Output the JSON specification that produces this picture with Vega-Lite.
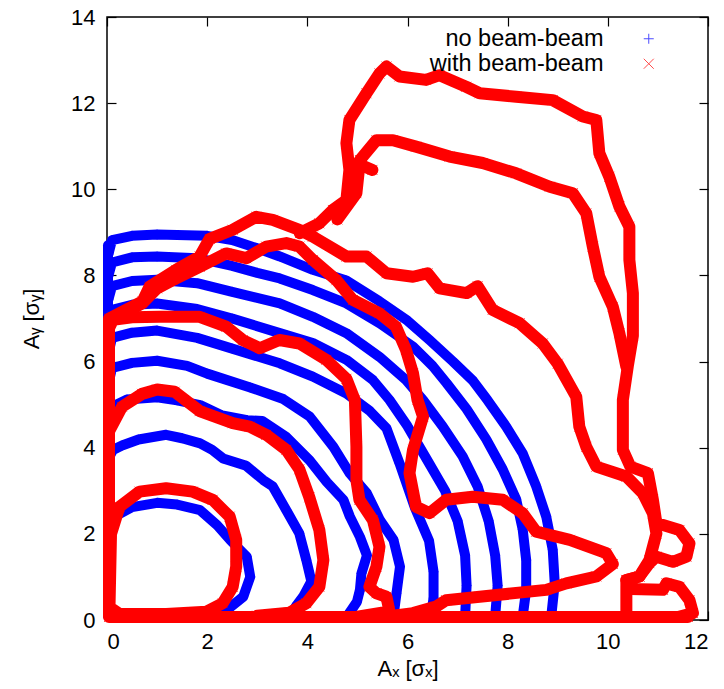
{
"$schema": "https://vega.github.io/schema/vega-lite/v6.json",
"width": 601, "height": 603,
"autosize": {"type": "none"},
"padding": {"left": 107, "top": 17, "right": 16, "bottom": 69},
"background": "white",
"config": {
  "font": "Liberation Sans",
  "view": {"stroke": "black", "strokeWidth": 1.5},
  "axis": {"grid": false, "domain": false, "tickColor": "black", "tickWidth": 1.2, "tickSize": -9, "labelFontSize": 22, "labelColor": "black", "titleFontSize": 22, "titleFontWeight": "normal", "titleColor": "black"}
},
"data": {"values": [
{"s":"n","c":"b0","x":0.02,"y":0.1},{"s":"n","c":"b0","x":0.02,"y":8.7},
{"s":"n","c":"b1","x":0.03,"y":2.15},{"s":"n","c":"b1","x":0.15,"y":2.4},{"s":"n","c":"b1","x":0.5,"y":2.62},{"s":"n","c":"b1","x":1.0,"y":2.72},{"s":"n","c":"b1","x":1.4,"y":2.68},{"s":"n","c":"b1","x":1.86,"y":2.55},{"s":"n","c":"b1","x":2.2,"y":2.2},{"s":"n","c":"b1","x":2.46,"y":1.86},{"s":"n","c":"b1","x":2.79,"y":1.47},{"s":"n","c":"b1","x":2.86,"y":1.0},{"s":"n","c":"b1","x":2.72,"y":0.54},{"s":"n","c":"b1","x":2.39,"y":0.23},{"s":"n","c":"b1","x":2.1,"y":0.06},
{"s":"n","c":"b2","x":0.03,"y":3.75},{"s":"n","c":"b2","x":0.12,"y":3.95},{"s":"n","c":"b2","x":0.3,"y":4.05},{"s":"n","c":"b2","x":0.63,"y":4.19},{"s":"n","c":"b2","x":1.18,"y":4.3},{"s":"n","c":"b2","x":1.5,"y":4.22},{"s":"n","c":"b2","x":1.86,"y":4.1},{"s":"n","c":"b2","x":2.1,"y":3.95},{"s":"n","c":"b2","x":2.32,"y":3.75},{"s":"n","c":"b2","x":2.78,"y":3.58},{"s":"n","c":"b2","x":3.12,"y":3.25},{"s":"n","c":"b2","x":3.31,"y":3.1},{"s":"n","c":"b2","x":3.58,"y":2.55},{"s":"n","c":"b2","x":3.84,"y":2.01},{"s":"n","c":"b2","x":3.98,"y":1.39},{"s":"n","c":"b2","x":4.08,"y":0.9},{"s":"n","c":"b2","x":3.92,"y":0.55},{"s":"n","c":"b2","x":3.79,"y":0.35},{"s":"n","c":"b2","x":3.65,"y":0.08},
{"s":"n","c":"b3","x":0.03,"y":4.7},{"s":"n","c":"b3","x":0.1,"y":4.95},{"s":"n","c":"b3","x":0.4,"y":5.12},{"s":"n","c":"b3","x":1.0,"y":5.17},{"s":"n","c":"b3","x":1.4,"y":5.1},{"s":"n","c":"b3","x":1.86,"y":4.99},{"s":"n","c":"b3","x":2.3,"y":4.75},{"s":"n","c":"b3","x":2.8,"y":4.64},{"s":"n","c":"b3","x":3.1,"y":4.62},{"s":"n","c":"b3","x":3.58,"y":4.25},{"s":"n","c":"b3","x":4.05,"y":3.7},{"s":"n","c":"b3","x":4.39,"y":3.2},{"s":"n","c":"b3","x":4.72,"y":2.79},{"s":"n","c":"b3","x":4.85,"y":2.4},{"s":"n","c":"b3","x":5.05,"y":1.93},{"s":"n","c":"b3","x":5.19,"y":1.5},{"s":"n","c":"b3","x":5.08,"y":1.08},{"s":"n","c":"b3","x":5.05,"y":0.7},{"s":"n","c":"b3","x":4.99,"y":0.42},{"s":"n","c":"b3","x":4.79,"y":0.08},
{"s":"n","c":"b4","x":0.03,"y":5.5},{"s":"n","c":"b4","x":0.1,"y":5.85},{"s":"n","c":"b4","x":0.5,"y":5.97},{"s":"n","c":"b4","x":1.0,"y":6.02},{"s":"n","c":"b4","x":1.6,"y":5.9},{"s":"n","c":"b4","x":2.0,"y":5.72},{"s":"n","c":"b4","x":2.86,"y":5.4},{"s":"n","c":"b4","x":3.52,"y":5.13},{"s":"n","c":"b4","x":4.05,"y":4.72},{"s":"n","c":"b4","x":4.52,"y":4.02},{"s":"n","c":"b4","x":4.85,"y":3.4},{"s":"n","c":"b4","x":5.19,"y":2.94},{"s":"n","c":"b4","x":5.45,"y":2.32},{"s":"n","c":"b4","x":5.72,"y":1.86},{"s":"n","c":"b4","x":5.85,"y":1.24},{"s":"n","c":"b4","x":5.78,"y":0.62},{"s":"n","c":"b4","x":5.72,"y":0.08},
{"s":"n","c":"b5","x":0.03,"y":6.2},{"s":"n","c":"b5","x":0.1,"y":6.55},{"s":"n","c":"b5","x":0.5,"y":6.67},{"s":"n","c":"b5","x":1.0,"y":6.72},{"s":"n","c":"b5","x":1.8,"y":6.55},{"s":"n","c":"b5","x":2.5,"y":6.3},{"s":"n","c":"b5","x":3.45,"y":5.96},{"s":"n","c":"b5","x":4.11,"y":5.65},{"s":"n","c":"b5","x":4.78,"y":5.26},{"s":"n","c":"b5","x":5.25,"y":4.85},{"s":"n","c":"b5","x":5.58,"y":4.45},{"s":"n","c":"b5","x":5.84,"y":3.64},{"s":"n","c":"b5","x":6.15,"y":2.6},{"s":"n","c":"b5","x":6.43,"y":1.84},{"s":"n","c":"b5","x":6.52,"y":1.12},{"s":"n","c":"b5","x":6.52,"y":0.51},{"s":"n","c":"b5","x":6.47,"y":0.08},
{"s":"n","c":"b6","x":0.03,"y":6.9},{"s":"n","c":"b6","x":0.1,"y":7.2},{"s":"n","c":"b6","x":0.5,"y":7.32},{"s":"n","c":"b6","x":1.0,"y":7.35},{"s":"n","c":"b6","x":1.8,"y":7.22},{"s":"n","c":"b6","x":2.5,"y":7.0},{"s":"n","c":"b6","x":3.45,"y":6.66},{"s":"n","c":"b6","x":4.11,"y":6.43},{"s":"n","c":"b6","x":4.78,"y":6.04},{"s":"n","c":"b6","x":5.31,"y":5.57},{"s":"n","c":"b6","x":5.64,"y":5.11},{"s":"n","c":"b6","x":6.0,"y":4.5},{"s":"n","c":"b6","x":6.4,"y":3.7},{"s":"n","c":"b6","x":6.75,"y":3.0},{"s":"n","c":"b6","x":7.0,"y":2.3},{"s":"n","c":"b6","x":7.15,"y":1.5},{"s":"n","c":"b6","x":7.18,"y":0.8},{"s":"n","c":"b6","x":7.15,"y":0.08},
{"s":"n","c":"b7","x":0.03,"y":7.45},{"s":"n","c":"b7","x":0.1,"y":7.75},{"s":"n","c":"b7","x":0.5,"y":7.87},{"s":"n","c":"b7","x":1.0,"y":7.9},{"s":"n","c":"b7","x":1.8,"y":7.82},{"s":"n","c":"b7","x":2.5,"y":7.62},{"s":"n","c":"b7","x":3.45,"y":7.35},{"s":"n","c":"b7","x":4.11,"y":7.04},{"s":"n","c":"b7","x":4.78,"y":6.66},{"s":"n","c":"b7","x":5.44,"y":6.11},{"s":"n","c":"b7","x":5.97,"y":5.57},{"s":"n","c":"b7","x":6.31,"y":5.11},{"s":"n","c":"b7","x":6.7,"y":4.5},{"s":"n","c":"b7","x":7.1,"y":3.8},{"s":"n","c":"b7","x":7.4,"y":3.1},{"s":"n","c":"b7","x":7.62,"y":2.3},{"s":"n","c":"b7","x":7.75,"y":1.5},{"s":"n","c":"b7","x":7.8,"y":0.8},{"s":"n","c":"b7","x":7.75,"y":0.08},
{"s":"n","c":"b8","x":0.03,"y":8.0},{"s":"n","c":"b8","x":0.1,"y":8.3},{"s":"n","c":"b8","x":0.5,"y":8.42},{"s":"n","c":"b8","x":1.0,"y":8.44},{"s":"n","c":"b8","x":1.8,"y":8.4},{"s":"n","c":"b8","x":2.5,"y":8.22},{"s":"n","c":"b8","x":3.0,"y":8.06},{"s":"n","c":"b8","x":3.45,"y":7.93},{"s":"n","c":"b8","x":4.11,"y":7.66},{"s":"n","c":"b8","x":4.78,"y":7.35},{"s":"n","c":"b8","x":5.44,"y":6.89},{"s":"n","c":"b8","x":6.11,"y":6.35},{"s":"n","c":"b8","x":6.5,"y":5.9},{"s":"n","c":"b8","x":6.78,"y":5.5},{"s":"n","c":"b8","x":7.18,"y":4.9},{"s":"n","c":"b8","x":7.57,"y":4.2},{"s":"n","c":"b8","x":7.9,"y":3.5},{"s":"n","c":"b8","x":8.17,"y":2.8},{"s":"n","c":"b8","x":8.3,"y":2.1},{"s":"n","c":"b8","x":8.37,"y":1.39},{"s":"n","c":"b8","x":8.37,"y":0.7},{"s":"n","c":"b8","x":8.3,"y":0.08},
{"s":"n","c":"b9","x":0.03,"y":8.5},{"s":"n","c":"b9","x":0.1,"y":8.82},{"s":"n","c":"b9","x":0.5,"y":8.92},{"s":"n","c":"b9","x":1.0,"y":8.95},{"s":"n","c":"b9","x":2.0,"y":8.92},{"s":"n","c":"b9","x":2.5,"y":8.82},{"s":"n","c":"b9","x":3.0,"y":8.63},{"s":"n","c":"b9","x":3.45,"y":8.44},{"s":"n","c":"b9","x":4.11,"y":8.13},{"s":"n","c":"b9","x":4.78,"y":7.88},{"s":"n","c":"b9","x":5.44,"y":7.4},{"s":"n","c":"b9","x":6.0,"y":6.95},{"s":"n","c":"b9","x":6.44,"y":6.5},{"s":"n","c":"b9","x":6.91,"y":6.0},{"s":"n","c":"b9","x":7.31,"y":5.55},{"s":"n","c":"b9","x":7.6,"y":5.1},{"s":"n","c":"b9","x":7.97,"y":4.49},{"s":"n","c":"b9","x":8.3,"y":3.87},{"s":"n","c":"b9","x":8.57,"y":3.1},{"s":"n","c":"b9","x":8.77,"y":2.4},{"s":"n","c":"b9","x":8.9,"y":1.63},{"s":"n","c":"b9","x":8.94,"y":0.85},{"s":"n","c":"b9","x":8.87,"y":0.08},
{"s":"w","c":"r0","x":0.04,"y":7.0},{"s":"w","c":"r0","x":0.04,"y":0.07},{"s":"w","c":"r0","x":11.6,"y":0.07},
{"s":"w","c":"r1","x":0.05,"y":0.3},{"s":"w","c":"r1","x":0.08,"y":2.0},{"s":"w","c":"r1","x":0.25,"y":2.63},{"s":"w","c":"r1","x":0.65,"y":2.98},{"s":"w","c":"r1","x":1.18,"y":3.06},{"s":"w","c":"r1","x":1.71,"y":2.98},{"s":"w","c":"r1","x":2.11,"y":2.79},{"s":"w","c":"r1","x":2.45,"y":2.4},{"s":"w","c":"r1","x":2.58,"y":1.86},{"s":"w","c":"r1","x":2.58,"y":1.24},{"s":"w","c":"r1","x":2.51,"y":0.77},{"s":"w","c":"r1","x":2.31,"y":0.39},{"s":"w","c":"r1","x":1.98,"y":0.19},{"s":"w","c":"r1","x":1.18,"y":0.14},{"s":"w","c":"r1","x":0.25,"y":0.14},{"s":"w","c":"r1","x":0.05,"y":0.3},
{"s":"w","c":"r2","x":0.05,"y":4.4},{"s":"w","c":"r2","x":0.3,"y":4.95},{"s":"w","c":"r2","x":0.7,"y":5.25},{"s":"w","c":"r2","x":1.0,"y":5.35},{"s":"w","c":"r2","x":1.35,"y":5.3},{"s":"w","c":"r2","x":1.85,"y":4.85},{"s":"w","c":"r2","x":2.51,"y":4.57},{"s":"w","c":"r2","x":2.85,"y":4.49},{"s":"w","c":"r2","x":3.18,"y":4.3},{"s":"w","c":"r2","x":3.58,"y":3.95},{"s":"w","c":"r2","x":3.84,"y":3.5},{"s":"w","c":"r2","x":4.04,"y":2.85},{"s":"w","c":"r2","x":4.24,"y":2.09},{"s":"w","c":"r2","x":4.32,"y":1.39},{"s":"w","c":"r2","x":4.24,"y":0.77},{"s":"w","c":"r2","x":3.98,"y":0.39},{"s":"w","c":"r2","x":3.64,"y":0.17},{"s":"w","c":"r2","x":3.0,"y":0.1},
{"s":"w","c":"r3","x":0.05,"y":6.8},{"s":"w","c":"r3","x":0.12,"y":6.97},{"s":"w","c":"r3","x":0.5,"y":7.03},{"s":"w","c":"r3","x":1.05,"y":7.04},{"s":"w","c":"r3","x":1.85,"y":7.04},{"s":"w","c":"r3","x":2.38,"y":6.81},{"s":"w","c":"r3","x":2.71,"y":6.5},{"s":"w","c":"r3","x":3.05,"y":6.31},{"s":"w","c":"r3","x":3.44,"y":6.5},{"s":"w","c":"r3","x":3.84,"y":6.42},{"s":"w","c":"r3","x":4.38,"y":6.04},{"s":"w","c":"r3","x":4.78,"y":5.6},{"s":"w","c":"r3","x":4.95,"y":5.1},{"s":"w","c":"r3","x":4.98,"y":4.02},{"s":"w","c":"r3","x":4.98,"y":3.25},{"s":"w","c":"r3","x":5.04,"y":2.79},{"s":"w","c":"r3","x":5.31,"y":2.32},{"s":"w","c":"r3","x":5.44,"y":1.7},{"s":"w","c":"r3","x":5.38,"y":1.24},{"s":"w","c":"r3","x":5.24,"y":0.77},{"s":"w","c":"r3","x":5.38,"y":0.62},{"s":"w","c":"r3","x":5.58,"y":0.54},{"s":"w","c":"r3","x":5.64,"y":0.2},{"s":"w","c":"r3","x":5.0,"y":0.08},
{"s":"w","c":"r4","x":0.05,"y":6.9},{"s":"w","c":"r4","x":0.11,"y":7.04},{"s":"w","c":"r4","x":0.71,"y":7.4},{"s":"w","c":"r4","x":0.85,"y":7.74},{"s":"w","c":"r4","x":1.38,"y":8.13},{"s":"w","c":"r4","x":1.85,"y":8.44},{"s":"w","c":"r4","x":2.05,"y":8.85},{"s":"w","c":"r4","x":2.51,"y":9.06},{"s":"w","c":"r4","x":2.98,"y":9.36},{"s":"w","c":"r4","x":3.31,"y":9.29},{"s":"w","c":"r4","x":3.84,"y":9.06},{"s":"w","c":"r4","x":4.11,"y":8.9},{"s":"w","c":"r4","x":4.78,"y":8.44},{"s":"w","c":"r4","x":5.18,"y":8.44},{"s":"w","c":"r4","x":5.58,"y":8.05},{"s":"w","c":"r4","x":6.11,"y":7.97},{"s":"w","c":"r4","x":6.4,"y":8.05},{"s":"w","c":"r4","x":6.64,"y":7.7},{"s":"w","c":"r4","x":7.18,"y":7.59},{"s":"w","c":"r4","x":7.4,"y":7.75},{"s":"w","c":"r4","x":7.7,"y":7.2},{"s":"w","c":"r4","x":8.24,"y":6.89},{"s":"w","c":"r4","x":8.7,"y":6.42},{"s":"w","c":"r4","x":9.0,"y":5.95},{"s":"w","c":"r4","x":9.37,"y":5.18},{"s":"w","c":"r4","x":9.43,"y":4.49},{"s":"w","c":"r4","x":9.57,"y":4.02},{"s":"w","c":"r4","x":9.77,"y":3.56},{"s":"w","c":"r4","x":10.37,"y":3.33},{"s":"w","c":"r4","x":10.7,"y":2.94},{"s":"w","c":"r4","x":10.9,"y":2.48},{"s":"w","c":"r4","x":10.97,"y":2.01},{"s":"w","c":"r4","x":10.83,"y":1.39},{"s":"w","c":"r4","x":10.63,"y":1.01},{"s":"w","c":"r4","x":10.37,"y":0.93},{"s":"w","c":"r4","x":10.37,"y":0.2},
{"s":"w","c":"r5","x":0.05,"y":6.9},{"s":"w","c":"r5","x":0.3,"y":7.1},{"s":"w","c":"r5","x":0.7,"y":7.35},{"s":"w","c":"r5","x":1.0,"y":7.7},{"s":"w","c":"r5","x":1.31,"y":7.89},{"s":"w","c":"r5","x":1.85,"y":8.2},{"s":"w","c":"r5","x":2.38,"y":8.51},{"s":"w","c":"r5","x":2.78,"y":8.4},{"s":"w","c":"r5","x":3.18,"y":8.67},{"s":"w","c":"r5","x":3.58,"y":8.75},{"s":"w","c":"r5","x":3.84,"y":8.67},{"s":"w","c":"r5","x":4.11,"y":8.36},{"s":"w","c":"r5","x":4.58,"y":7.89},{"s":"w","c":"r5","x":4.91,"y":7.43},{"s":"w","c":"r5","x":5.44,"y":7.12},{"s":"w","c":"r5","x":5.77,"y":6.81},{"s":"w","c":"r5","x":5.97,"y":6.27},{"s":"w","c":"r5","x":6.11,"y":5.73},{"s":"w","c":"r5","x":6.2,"y":5.11},{"s":"w","c":"r5","x":6.31,"y":4.72},{"s":"w","c":"r5","x":6.11,"y":3.95},{"s":"w","c":"r5","x":6.04,"y":3.41},{"s":"w","c":"r5","x":6.17,"y":2.63},{"s":"w","c":"r5","x":6.44,"y":2.48},{"s":"w","c":"r5","x":6.77,"y":2.79},{"s":"w","c":"r5","x":7.3,"y":2.86},{"s":"w","c":"r5","x":7.9,"y":2.79},{"s":"w","c":"r5","x":8.3,"y":2.48},{"s":"w","c":"r5","x":8.57,"y":2.05},{"s":"w","c":"r5","x":9.24,"y":1.86},{"s":"w","c":"r5","x":9.97,"y":1.55},{"s":"w","c":"r5","x":10.1,"y":1.3},{"s":"w","c":"r5","x":9.77,"y":1.01},{"s":"w","c":"r5","x":9.17,"y":0.85},{"s":"w","c":"r5","x":8.77,"y":0.7},{"s":"w","c":"r5","x":7.44,"y":0.54},{"s":"w","c":"r5","x":6.77,"y":0.46},{"s":"w","c":"r5","x":6.57,"y":0.31},{"s":"w","c":"r5","x":6.11,"y":0.16},{"s":"w","c":"r5","x":5.6,"y":0.08},
{"s":"w","c":"r6","x":3.85,"y":8.98},{"s":"w","c":"r6","x":4.24,"y":9.21},{"s":"w","c":"r6","x":4.51,"y":9.52},{"s":"w","c":"r6","x":4.78,"y":9.75},{"s":"w","c":"r6","x":4.84,"y":10.45},{"s":"w","c":"r6","x":4.78,"y":11.07},{"s":"w","c":"r6","x":4.84,"y":11.61},{"s":"w","c":"r6","x":5.18,"y":12.23},{"s":"w","c":"r6","x":5.44,"y":12.69},{"s":"w","c":"r6","x":5.58,"y":12.85},{"s":"w","c":"r6","x":5.84,"y":12.62},{"s":"w","c":"r6","x":6.37,"y":12.54},{"s":"w","c":"r6","x":6.64,"y":12.65},{"s":"w","c":"r6","x":7.17,"y":12.38},{"s":"w","c":"r6","x":7.44,"y":12.23},{"s":"w","c":"r6","x":8.17,"y":12.15},{"s":"w","c":"r6","x":8.9,"y":12.07},{"s":"w","c":"r6","x":9.5,"y":11.69},{"s":"w","c":"r6","x":9.77,"y":11.61},{"s":"w","c":"r6","x":9.83,"y":10.84},{"s":"w","c":"r6","x":10.03,"y":10.29},{"s":"w","c":"r6","x":10.23,"y":9.6},{"s":"w","c":"r6","x":10.43,"y":9.13},{"s":"w","c":"r6","x":10.43,"y":8.36},{"s":"w","c":"r6","x":10.5,"y":7.59},{"s":"w","c":"r6","x":10.5,"y":6.6},{"s":"w","c":"r6","x":10.4,"y":5.9},{"s":"w","c":"r6","x":10.3,"y":5.11},{"s":"w","c":"r6","x":10.3,"y":3.95},{"s":"w","c":"r6","x":10.45,"y":3.56},{"s":"w","c":"r6","x":10.8,"y":3.41},{"s":"w","c":"r6","x":10.9,"y":2.79},{"s":"w","c":"r6","x":10.97,"y":2.25},{"s":"w","c":"r6","x":11.43,"y":2.09},{"s":"w","c":"r6","x":11.63,"y":1.78},{"s":"w","c":"r6","x":11.57,"y":1.47},{"s":"w","c":"r6","x":11.3,"y":1.35},{"s":"w","c":"r6","x":10.97,"y":1.47},{"s":"w","c":"r6","x":10.83,"y":1.32},{"s":"w","c":"r6","x":10.63,"y":1.01},{"s":"w","c":"r6","x":10.37,"y":0.93},{"s":"w","c":"r6","x":10.45,"y":0.72},{"s":"w","c":"r6","x":11.1,"y":0.7},{"s":"w","c":"r6","x":11.17,"y":0.85},{"s":"w","c":"r6","x":11.43,"y":0.77},{"s":"w","c":"r6","x":11.63,"y":0.46},{"s":"w","c":"r6","x":11.7,"y":0.16},{"s":"w","c":"r6","x":11.4,"y":0.07},
{"s":"w","c":"r7","x":4.6,"y":9.3},{"s":"w","c":"r7","x":4.98,"y":9.91},{"s":"w","c":"r7","x":5.05,"y":10.68},{"s":"w","c":"r7","x":5.38,"y":11.14},{"s":"w","c":"r7","x":5.71,"y":11.14},{"s":"w","c":"r7","x":6.17,"y":10.99},{"s":"w","c":"r7","x":6.84,"y":10.76},{"s":"w","c":"r7","x":7.5,"y":10.61},{"s":"w","c":"r7","x":8.17,"y":10.37},{"s":"w","c":"r7","x":8.84,"y":10.06},{"s":"w","c":"r7","x":9.3,"y":9.91},{"s":"w","c":"r7","x":9.57,"y":9.44},{"s":"w","c":"r7","x":9.7,"y":8.67},{"s":"w","c":"r7","x":9.83,"y":7.97},{"s":"w","c":"r7","x":10.1,"y":7.27},{"s":"w","c":"r7","x":10.23,"y":6.66},{"s":"w","c":"r7","x":10.37,"y":5.88},
{"s":"w","c":"r8","x":5.0,"y":10.6},{"s":"w","c":"r8","x":5.3,"y":10.45}
]},
"layer": [
  {"transform": [{"filter": "datum.s == 'n'"}],
   "mark": {"type": "line", "color": "#0000ff", "strokeWidth": 10, "strokeJoin": "round", "strokeCap": "round"},
   "encoding": {
     "x": {"field": "x", "type": "quantitative", "scale": {"domain": [0, 12], "nice": false, "zero": false},
           "axis": {"orient": "bottom", "values": [0,2,4,6,8,10,12], "title": "Aₓ [σₓ]", "labelPadding": 20, "titlePadding": 6}},
     "y": {"field": "y", "type": "quantitative", "scale": {"domain": [0, 14], "nice": false, "zero": false},
           "axis": {"orient": "left", "values": [0,2,4,6,8,10,12,14], "title": "Aᵧ [σᵧ]", "labelPadding": 21, "titlePadding": 27}},
     "detail": {"field": "c"},
     "order": {"value": null}
   }},
  {"transform": [{"filter": "datum.s == 'n'"}],
   "mark": {"type": "point", "filled": false, "strokeWidth": 1, "size": 100},
   "encoding": {
     "x": {"field": "x", "type": "quantitative", "axis": null},
     "y": {"field": "y", "type": "quantitative", "axis": null},
     "color": {"field": "s", "type": "nominal", "scale": {"domain": ["n", "w"], "range": ["#0000ff", "#ff0000"]},
               "legend": {"orient": "none", "legendX": 530, "legendY": 10, "title": null, "labelAlign": "right", "labelOffset": -57, "labelFontSize": 23.5, "labelColor": "black", "labelLimit": 400, "symbolStrokeWidth": 1, "symbolSize": 100, "rowPadding": 0, "labelExpr": "datum.value == 'n' ? 'no beam-beam' : 'with beam-beam'"}},
     "shape": {"field": "s", "type": "nominal", "scale": {"domain": ["n", "w"], "range": ["M-1,0L1,0M0,-1L0,1", "M-1,-1L1,1M-1,1L1,-1"]},
               "legend": {"orient": "none", "legendX": 530, "legendY": 10, "title": null, "labelAlign": "right", "labelOffset": -57, "labelFontSize": 23.5, "labelColor": "black", "labelLimit": 400, "symbolStrokeWidth": 1, "symbolSize": 100, "rowPadding": 0, "labelExpr": "datum.value == 'n' ? 'no beam-beam' : 'with beam-beam'"}}
   }},
  {"transform": [{"filter": "datum.s == 'w'"}],
   "mark": {"type": "line", "color": "#ff0000", "strokeWidth": 12, "strokeJoin": "round", "strokeCap": "round"},
   "encoding": {
     "x": {"field": "x", "type": "quantitative", "axis": {"orient": "top", "values": [0,2,4,6,8,10,12], "labels": false, "title": null}},
     "y": {"field": "y", "type": "quantitative", "axis": {"orient": "right", "values": [0,2,4,6,8,10,12,14], "labels": false, "title": null}},
     "detail": {"field": "c"},
     "order": {"value": null}
   }},
  {"transform": [{"filter": "datum.s == 'w'"}],
   "mark": {"type": "point", "filled": false, "strokeWidth": 1, "size": 100},
   "encoding": {
     "x": {"field": "x", "type": "quantitative", "axis": null},
     "y": {"field": "y", "type": "quantitative", "axis": null},
     "color": {"field": "s", "type": "nominal"},
     "shape": {"field": "s", "type": "nominal"}
   }}
],
"resolve": {"axis": {"x": "independent", "y": "independent"}}
}
